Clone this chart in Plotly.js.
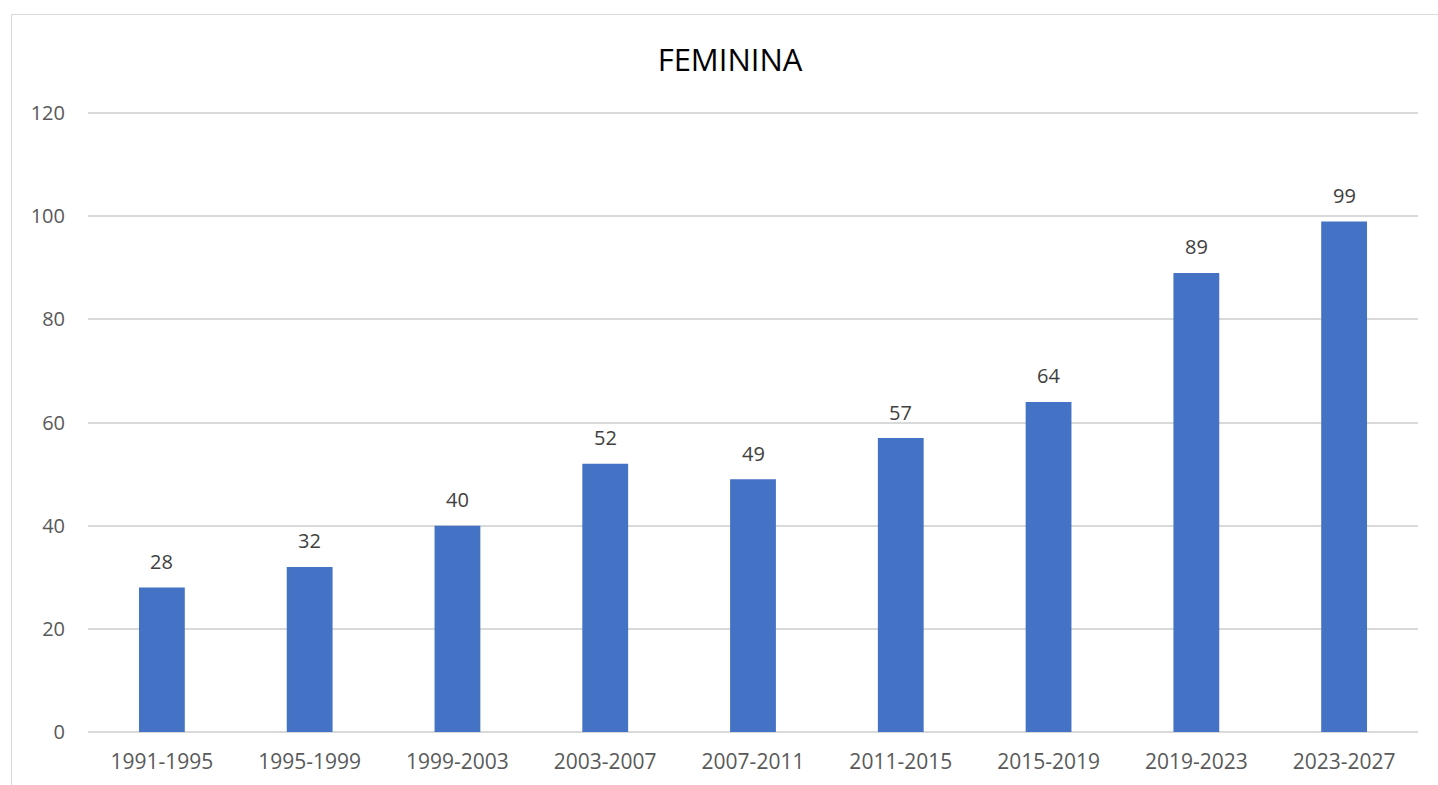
<!DOCTYPE html>
<html><head><meta charset="utf-8">
<script src="https://cdn.plot.ly/plotly-3.0.1.min.js"></script>
<style>
html,body{margin:0;padding:0;background:#fff;overflow:hidden;}
#frame{position:absolute;left:11px;top:14px;width:1460px;height:800px;border:1.5px solid #d9d9d9;box-sizing:border-box;}
#chart{position:absolute;left:0;top:0;width:1438px;height:785px;}
</style></head>
<body>
<div id="frame"></div>
<div id="chart"></div>
<script>
const categories = ["1991-1995","1995-1999","1999-2003","2003-2007","2007-2011","2011-2015","2015-2019","2019-2023","2023-2027"];
const values = [28,32,40,52,49,57,64,89,99];
const yTicks = [0,20,40,60,80,100,120];

const font = "'Open Sans', sans-serif";
const trace = {
  type: 'bar', x: categories, y: values,
  marker: {color: '#4472C4'}, width: 0.31, hoverinfo: 'x+y'
};
const annotations = categories.map((c,i)=>({
  x: c, y: values[i], xref:'x', yref:'y', text: String(values[i]),
  showarrow:false, yanchor:'middle', yshift:26,
  font:{family:font, size:20, color:'#404040'}
}));
const layout = {
  width:1438, height:785, paper_bgcolor:'rgba(0,0,0,0)', plot_bgcolor:'rgba(0,0,0,0)',
  margin:{l:88, r:20, t:111, b:53},
  showlegend:false,
  title:{text:'FEMININA', xref:'container', yref:'container', x:730/1438, y:1-60/785,
    xanchor:'center', yanchor:'middle', font:{family:font, size:31, color:'#000'}},
  xaxis:{type:'category', tickfont:{family:font, size:21, color:'#595959'},
    showgrid:false, zeroline:false, showline:false, ticks:'', ticklabelstandoff:15},
  yaxis:{range:[0,120.4], tickvals:yTicks, tickfont:{family:font, size:20, color:'#595959'},
    showgrid:true, gridcolor:'#d9d9d9', gridwidth:1.5, zeroline:true, zerolinecolor:'#d9d9d9', zerolinewidth:1.5,
    showline:false, ticks:'', ticklabelstandoff:22},
  annotations: annotations
};
Plotly.newPlot('chart',[trace],layout,{displayModeBar:false});
</script>
</body></html>
